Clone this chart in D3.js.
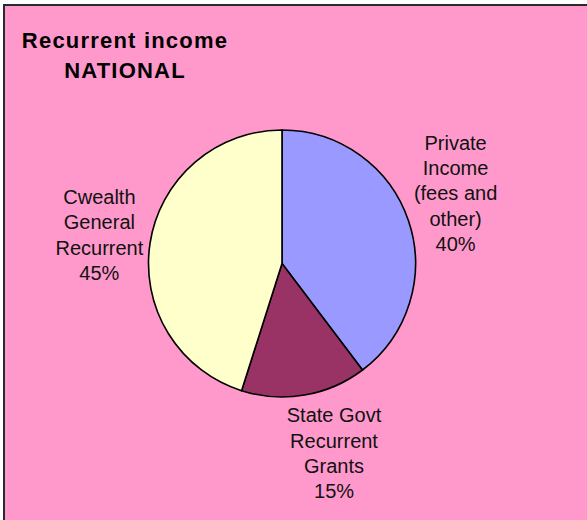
<!DOCTYPE html>
<html>
<head>
<meta charset="utf-8">
<script src="https://cdn.jsdelivr.net/npm/d3@7"></script>
<style>
  body { margin: 0; background: #fff; }
  svg { display: block; font-family: "Liberation Sans", Arial, sans-serif; }
</style>
</head>
<body>
<div id="chart"></div>
<script>
// values (labels show rounded shares)
const categories = ["Private Income (fees and other)", "State Govt Recurrent Grants", "Cwealth General Recurrent"];
const values = [39.7, 15.2, 45.1];
const labelLines = [
    ["Private", "Income", "(fees and", "other)"],
    ["State Govt", "Recurrent", "Grants"],
    ["Cwealth", "General", "Recurrent"]
];
const sliceColors = ["#9999FF", "#993366", "#FFFFCC"];
const titleLines = ["Recurrent income", "NATIONAL"];

const width = 587, height = 520;
const cx = 282, cy = 263.5, radius = 133.5;

const svg = d3.select("#chart")
    .append("svg")
    .attr("width", width)
    .attr("height", height);

// chart area (cropped on the right and bottom)
svg.append("rect")
    .attr("x", 4)
    .attr("y", 5)
    .attr("width", width + 20)
    .attr("height", height + 20)
    .attr("fill", "#FF99CC")
    .attr("stroke", "#2a2a2a")
    .attr("stroke-width", 2);

svg.append("text")
    .attr("x", 125)
    .attr("y", 47.7)
    .attr("text-anchor", "middle")
    .style("font-size", "22px")
    .style("font-weight", "bold")
    .style("letter-spacing", "1.2px")
    .selectAll("tspan")
    .data(titleLines)
    .enter()
    .append("tspan")
    .attr("x", 125)
    .attr("dy", (d, i) => i === 0 ? 0 : 30.3)
    .text(d => d);

const total = d3.sum(values);
const data = categories.map((c, i) => ({ name: c, value: values[i], lines: labelLines[i], color: sliceColors[i] }));

const pie = d3.pie()
    .sort(null)
    .value(d => d.value);

const arc = d3.arc()
    .innerRadius(0)
    .outerRadius(radius);

const chart = svg.append("g")
    .attr("transform", `translate(${cx},${cy})`);

const arcs = pie(data);

chart.selectAll(".slice")
    .data(arcs)
    .enter()
    .append("path")
    .attr("class", "slice")
    .attr("d", arc)
    .attr("fill", d => d.data.color)
    .attr("stroke", "#000")
    .attr("stroke-width", 1.6)
    .attr("stroke-linejoin", "round");

const pct = d3.format(".0%");
const lineH = 25.3;
const gap = 10;
// the labels in the original were dragged a little by hand
const labelNudge = [[-2, -5], [20, 0], [3, 1]];

const labels = chart.selectAll(".label")
    .data(arcs)
    .enter()
    .append("g")
    .attr("class", "label");

labels.append("text")
    .attr("text-anchor", "middle")
    .style("font-size", "20px")
    .attr("fill", "#111")
    .selectAll("tspan")
    .data(d => d.data.lines.concat([pct(d.data.value / total)]))
    .enter()
    .append("tspan")
    .attr("x", 0)
    .attr("y", (d, i) => i * lineH)
    .text(d => d);

// place each label box just outside the rim, along the slice's middle angle
labels.each(function (d, i) {
    const g = d3.select(this);
    const box = this.getBBox();
    const a = (d.startAngle + d.endAngle) / 2;
    const sx = Math.sin(a), sy = -Math.cos(a);
    const px = sx * (radius + gap), py = sy * (radius + gap);
    const bx = px + sx * box.width / 2 + labelNudge[i][0];
    const by = py + sy * box.height / 2 + labelNudge[i][1];
    const ox = bx - (box.x + box.width / 2);
    const oy = by - (box.y + box.height / 2);
    g.attr("transform", `translate(${ox},${oy})`);
});
</script>
</body>
</html>
